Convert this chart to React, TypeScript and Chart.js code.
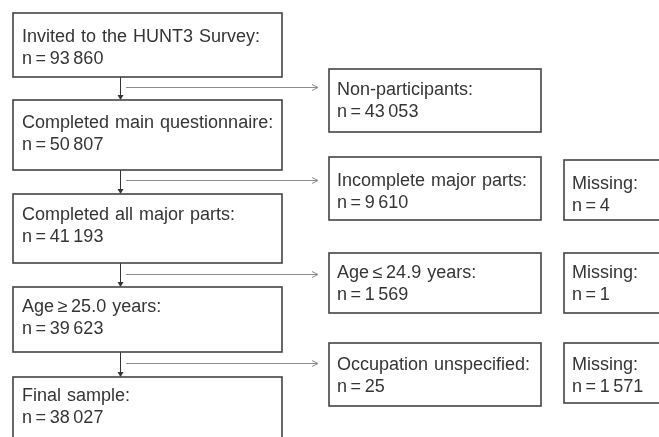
import React, { useEffect, useRef } from "react";
import { Chart, registerables } from "chart.js";

Chart.register(...registerables);

// ---- data ----
const mainLabels = [
  "Invited to the HUNT3 Survey:",
  "Completed main questionnaire:",
  "Completed all major parts:",
  "Age\u2009\u2265\u200925.0 years:",
  "Final sample:",
];
const mainCounts = [93860, 50807, 41193, 39623, 38027];
const exclusionLabels = [
  "Non-participants:",
  "Incomplete major parts:",
  "Age\u2009\u2264\u200924.9 years:",
  "Occupation unspecified:",
];
const exclusionCounts = [43053, 9610, 1569, 25];
const missingLabels = [null, "Missing:", "Missing:", "Missing:"];
const missingCounts = [null, 4, 1, 1571];

// ---- layout (in scale units) ----
const mainX = [13, 282];
const mainTop = [13, 100, 194, 287, 377];
const mainBottom = [77, 170, 263, 352, 460];
const mainTextOffset = [29, 28, 26, 25, 24];
const exclX = [329, 541];
const exclTop = [69, 157, 253, 343];
const exclBottom = [132, 220, 313, 406];
const exclTextOffset = [26, 29, 25, 27];
const missX = [564, 700];
const missTop = [null, 160, 253, 343];
const missBottom = [null, 220, 313, 403];
const downArrowX = 120;
const sideArrowY = [87, 180, 274, 363];
const sideArrowX = [126, 318];

const fmt = (n: number) => {
  const s = String(n);
  return s.replace(/\B(?=(\d{3})+(?!\d))/g, "\u2009");
};
const countText = (n: number) => `n\u2009=\u2009${fmt(n)}`;

const FONT = '18px "Liberation Sans", Arial, sans-serif';
const TEXT = "#353535";
const BORDER = "#444444";

const flowPlugin = {
  id: "flow",
  afterDraw(chart: any) {
    const ctx: CanvasRenderingContext2D = chart.ctx;
    const xs = chart.scales.x;
    const ys = chart.scales.y;
    const px = (v: number) => xs.getPixelForValue(v);
    const py = (v: number) => ys.getPixelForValue(v);

    const box = (
      x0: number, x1: number, t: number, b: number,
      l1: string, l2: string, tx: number, off: number
    ) => {
      const X0 = px(x0), X1 = px(x1), T = py(t), B = py(b);
      ctx.save();
      ctx.fillStyle = "#ffffff";
      ctx.fillRect(X0, T, X1 - X0, B - T);
      ctx.strokeStyle = BORDER;
      ctx.lineWidth = 1.6;
      ctx.strokeRect(X0, T, X1 - X0, B - T);
      ctx.fillStyle = TEXT;
      ctx.font = FONT;
      ctx.textBaseline = "alphabetic";
      ctx.textAlign = "left";
      (ctx as any).wordSpacing = "1px";
      ctx.fillText(l1, px(tx), py(t + off));
      (ctx as any).wordSpacing = "0px";
      ctx.fillText(l2, px(tx), py(t + off + 22));
      ctx.restore();
    };

    // down arrows
    ctx.save();
    ctx.strokeStyle = "#333";
    ctx.fillStyle = "#333";
    ctx.lineWidth = 1;
    for (let i = 0; i < mainLabels.length - 1; i++) {
      const x = px(downArrowX) + 0.5;
      const y0 = py(mainBottom[i]);
      const y1 = py(mainTop[i + 1]);
      ctx.beginPath();
      ctx.moveTo(x, y0);
      ctx.lineTo(x, y1 - 3);
      ctx.stroke();
      ctx.beginPath();
      ctx.moveTo(x - 3, y1 - 5);
      ctx.lineTo(x + 3, y1 - 5);
      ctx.lineTo(x, y1);
      ctx.closePath();
      ctx.fill();
    }
    // side arrows
    ctx.strokeStyle = "#8c8c8c";
    ctx.lineWidth = 1;
    for (let i = 0; i < sideArrowY.length; i++) {
      const y = py(sideArrowY[i]) + 0.5;
      const x0 = px(sideArrowX[0]);
      const x1 = px(sideArrowX[1]);
      ctx.beginPath();
      ctx.moveTo(x0, y);
      ctx.lineTo(x1, y);
      ctx.stroke();
      ctx.beginPath();
      ctx.moveTo(x1 - 6, y - 3);
      ctx.lineTo(x1, y);
      ctx.lineTo(x1 - 6, y + 3);
      ctx.stroke();
    }
    ctx.restore();

    mainLabels.forEach((l, i) => {
      box(mainX[0], mainX[1], mainTop[i], mainBottom[i], l, countText(mainCounts[i]), mainX[0] + 9, mainTextOffset[i]);
    });
    exclusionLabels.forEach((l, i) => {
      box(exclX[0], exclX[1], exclTop[i], exclBottom[i], l, countText(exclusionCounts[i]), exclX[0] + 8, exclTextOffset[i]);
    });
    missingLabels.forEach((l, i) => {
      const c = missingCounts[i];
      if (l === null || c === null) return;
      box(missX[0], missX[1], missTop[i] as number, missBottom[i] as number, l, countText(c), missX[0] + 8, exclTextOffset[i]);
    });
  },
};

export default function App() {
  const ref = useRef<HTMLCanvasElement | null>(null);
  useEffect(() => {
    document.body.style.margin = "0";
    if (!ref.current) return;
    const chart = new Chart(ref.current, {
      type: "scatter",
      data: { datasets: [{ data: [], pointRadius: 0 }] },
      options: {
        animation: false,
        responsive: false,
        events: [],
        layout: { padding: 0 },
        plugins: { legend: { display: false }, tooltip: { enabled: false }, title: { display: false } },
        scales: {
          x: { type: "linear", min: 0, max: 659, display: false },
          y: { type: "linear", min: 0, max: 437, reverse: true, display: false },
        },
      },
      plugins: [flowPlugin],
    });
    return () => chart.destroy();
  }, []);
  return (
    <div style={{ width: 659, height: 437, background: "#fff" }}>
      <canvas ref={ref} width={659} height={437} style={{ display: "block" }} />
    </div>
  );
}
